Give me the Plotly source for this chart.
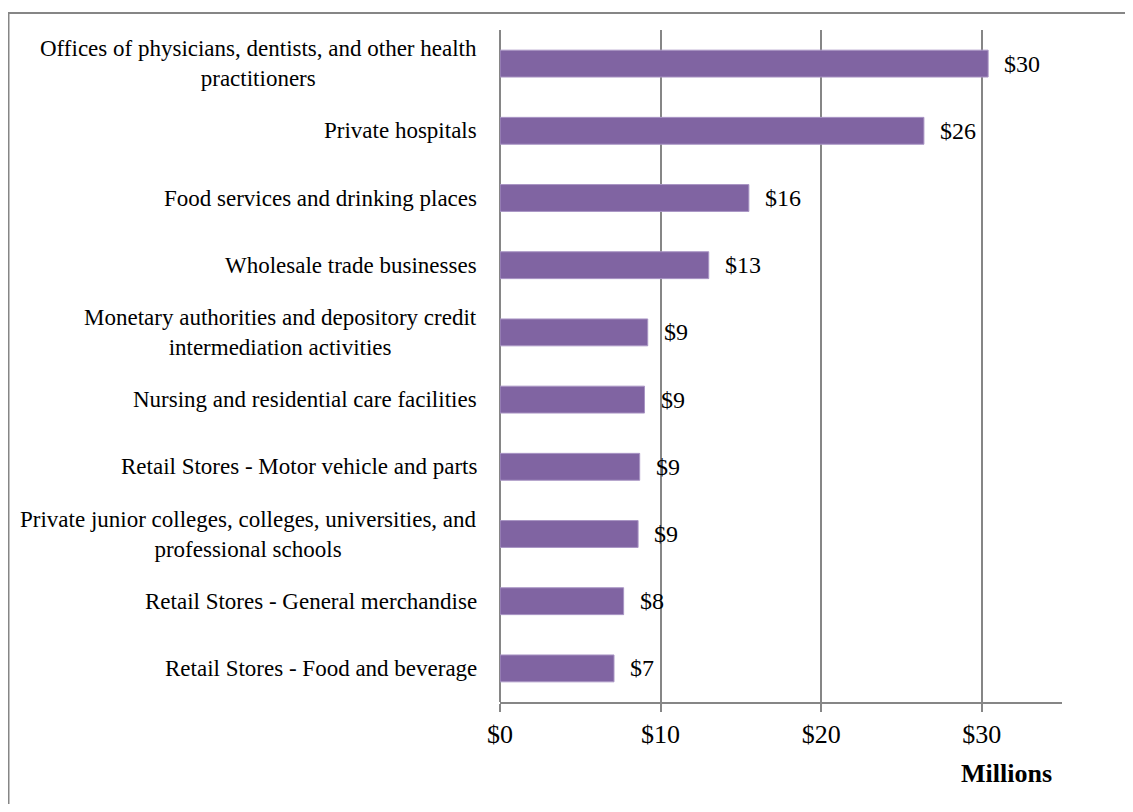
import plotly.graph_objects as go

categories = [
    "Offices of physicians, dentists, and other health<br>practitioners",
    "Private hospitals",
    "Food services and drinking places",
    "Wholesale trade businesses",
    "Monetary authorities and depository credit<br>intermediation activities",
    "Nursing and residential care facilities",
    "Retail Stores - Motor vehicle and parts",
    "Private junior colleges, colleges, universities, and<br>professional schools",
    "Retail Stores - General merchandise",
    "Retail Stores - Food and beverage",
]
values = [30.4, 26.4, 15.5, 13.0, 9.2, 9.0, 8.7, 8.6, 7.7, 7.1]
value_labels = ["$30", "$26", "$16", "$13", "$9", "$9", "$9", "$9", "$8", "$7"]
tick_vals = [0, 10, 20, 30]
tick_text = ["$0", "$10", "$20", "$30"]

FONT = "Liberation Serif, Times New Roman, serif"
GRID = "#868686"
ids = list(range(len(categories)))

fig = go.Figure()
fig.add_trace(go.Bar(
    x=values, y=ids, orientation="h", width=0.4,
    marker=dict(color="#8064A2", line=dict(color="#A995C4", width=1)),
    hoverinfo="skip",
))

annotations = []
for i, (cat, v, lab) in enumerate(zip(categories, values, value_labels)):
    annotations.append(dict(
        x=0, xref="paper", y=i, yref="y", text=cat, showarrow=False,
        xanchor="right", yanchor="middle", align="center", xshift=-21,
        font=dict(family=FONT, size=23, color="black"),
    ))
    annotations.append(dict(
        x=v, xref="x", y=i, yref="y", text=lab, showarrow=False,
        xanchor="left", yanchor="middle", xshift=14,
        font=dict(family=FONT, size=24, color="black"),
    ))
annotations.append(dict(
    x=1, xref="paper", y=-0.106, yref="paper", text="<b>Millions</b>",
    showarrow=False, xanchor="right", yanchor="middle", xshift=-8,
    font=dict(family=FONT, size=26, color="black"),
))

fig.update_layout(
    width=1125, height=796,
    margin=dict(l=492, r=71, t=22, b=102),
    paper_bgcolor="white", plot_bgcolor="white",
    showlegend=False,
    annotations=annotations,
    xaxis=dict(
        range=[0, 35], tickvals=tick_vals, ticktext=tick_text,
        showgrid=True, gridcolor=GRID, gridwidth=1.5,
        zeroline=True, zerolinecolor=GRID, zerolinewidth=1.5,
        showline=True, linecolor=GRID, linewidth=2,
        ticks="outside", ticklen=8, tickcolor=GRID, tickwidth=1.5,
        tickfont=dict(family=FONT, size=26, color="black"),
        fixedrange=True,
    ),
    yaxis=dict(
        range=[len(categories) - 0.5, -0.5], showticklabels=False,
        showgrid=False, zeroline=False, showline=False, fixedrange=True,
    ),
    shapes=[dict(
        type="rect", xref="paper", yref="paper",
        x0=(8.5 - 500) / 562, x1=(1145 - 500) / 562,
        y0=(702 - 830) / 672, y1=(702 - 13) / 672,
        line=dict(color=GRID, width=2), fillcolor="rgba(0,0,0,0)", layer="below",
    )],
)

fig.write_html("out.html")
